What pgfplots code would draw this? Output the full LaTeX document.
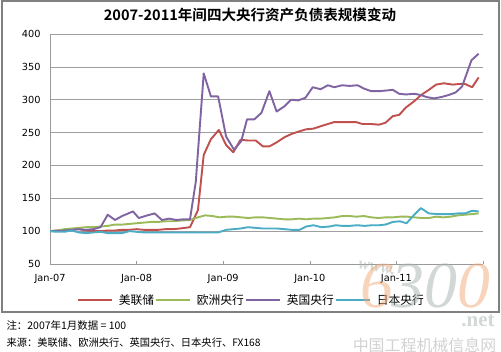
\documentclass[border=0pt]{standalone}
\usepackage{pgfplots}
\pgfplotsset{compat=1.18}
\usepackage{fontspec}
\setmainfont{DejaVu Sans}
\newfontfamily\cjk{Noto Sans CJK SC}[BoldFont={Noto Sans CJK SC Bold}]
\newfontfamily\wmserif{Liberation Serif}
\definecolor{fed}{RGB}{192,80,77}
\definecolor{ecb}{RGB}{155,187,89}
\definecolor{boe}{RGB}{128,100,162}
\definecolor{boj}{RGB}{75,172,198}
\definecolor{wmorange}{RGB}{240,170,120}
\definecolor{wmgrey}{RGB}{165,178,172}
\definecolor{framegrey}{RGB}{128,128,128}
\begin{document}
\begin{tikzpicture}
\useasboundingbox (0bp,0bp) rectangle (501bp,352bp);
\fill[white] (0bp,0bp) rectangle (501bp,352bp);
\node[font=\cjk\bfseries\fontsize{14.6}{16}\selectfont] at (250bp,337bp) {2007-2011年间四大央行资产负债表规模变动};
\begin{axis}[
  at={(50bp,88bp)}, anchor=origin, scale only axis,
  width=433bp, height=230bp,
  xmin=0, xmax=60, ymin=50, ymax=400,
  xtick={0,12,24,36,48,60},
  xticklabels={Jan-07,Jan-08,Jan-09,Jan-10,Jan-11,{}},
  ytick={50,100,150,200,250,300,350,400},
  ymajorgrids, grid style={gray!75, line width=0.6bp},
  axis x line*=bottom, axis y line*=left,
  axis line style={gray!80, line width=0.8bp},
  tick align=inside, major tick length=3bp,
  xtick style={gray!80, line width=0.6bp}, ytick style={draw=none},
  tick label style={font=\fontsize{9.8}{11}\selectfont},
  xticklabel style={yshift=-7bp},
  yticklabel style={xshift=-6bp},
  /pgf/number format/assume math mode=true,
  every axis plot/.append style={line width=1.9bp, line join=round},
  legend style={at={(0.465,-0.157)}, anchor=center, draw=none, fill=none,
    legend columns=4, font=\cjk\fontsize{11.8}{13}\selectfont,
    nodes={inner xsep=1.5bp},
    /tikz/every even column/.style={column sep=0bp},
    /tikz/every odd column/.style={column sep=14bp}},
  legend image code/.code={\path (0bp,0bp) -- (24bp,0bp);\draw[#1, overlay] (10bp,0bp) -- (34bp,0bp);},
]
\addplot[fed] coordinates {(0,100) (1,101) (2,102) (3,102) (4,103) (5,101) (6,100) (7,100) (8,101) (9,101) (10,102) (11,102) (12,103) (13,102) (14,102) (15,102) (16,103) (17,103) (18,104) (19.4,106) (20.5,132) (21.3,216) (22.3,240) (23.4,254) (24.4,231) (25.4,220) (26.4,239) (27.4,238) (28.5,238) (29.5,229) (30.4,229) (31.4,235) (32.5,243) (33.5,248) (34.6,252) (35.5,255) (36.5,256) (37.6,260) (38.5,263) (39.4,266) (40.5,266) (41.5,266) (42.4,266) (43.3,263) (44.5,263) (45.6,262) (46.5,265) (47.5,275) (48.4,277) (49.3,288) (50.5,298) (51.4,307) (52.5,315) (53.5,323) (54.6,325) (55.8,323) (56.8,324) (57.5,324) (58.5,319) (59.4,334)};
\addlegendentry{美联储}
\addplot[ecb] coordinates {(0,100) (1,101) (2,103) (3,104) (4,105) (5,106) (6,106) (7,107) (8,108) (9,110) (10,110) (11,111) (12,112) (13,113) (14,114) (15,114) (16,115) (17,115) (18,116) (19.4,117) (20.5,121) (21.5,124) (22.5,123) (23.5,121) (24.5,122) (25.5,122) (26.5,121) (27.5,120) (28.5,121) (29.5,121) (30.5,120) (31.5,119) (32.5,118) (33.5,118) (34.5,119) (35.5,118) (36.5,119) (37.5,119) (38.5,120) (39.5,121) (40.5,123) (41.5,123) (42.5,122) (43.5,123) (44.5,121) (45.5,120) (46.5,121) (47.5,121) (48.5,122) (49.5,122) (50.5,121) (51.5,120) (52.5,120) (53.5,122) (54.5,121) (55.5,122) (56.5,124) (57.5,125) (58.5,126) (59.4,127)};
\addlegendentry{欧洲央行}
\addplot[boe] coordinates {(0,100) (1,100) (2,101) (3,102) (4,103) (5,102) (6,103) (7,106) (8,125) (9,117) (10,123) (11.5,130) (12.3,120) (13.5,124) (14.5,127) (15.5,117) (16.5,119) (17.5,117) (18.5,118) (19.4,118) (20.2,175) (21.3,340) (22.3,305) (23.3,305) (24.4,244) (25.5,224) (26.5,237) (27.3,270) (28.3,270) (29.3,280) (30.4,313) (31.4,282) (32.5,290) (33.4,300) (34.4,299) (35.4,303) (36.4,319) (37.5,316) (38.5,322) (39.4,319) (40.5,322) (41.5,321) (42.6,322) (43.5,317) (44.5,313) (45.6,313) (46.6,314) (47.5,315) (48.4,309) (49.3,308) (50.5,309) (51.4,307) (52.2,304) (53.2,302) (54.2,304) (55.2,307) (56.2,311) (57.1,320) (58.4,360) (59.4,370)};
\addlegendentry{英国央行}
\addplot[boj] coordinates {(0,100) (1,99) (2,99) (3,101) (4,98) (5,97) (6,98) (7,99) (8,97) (9,97) (10,97) (11,100) (12,99) (13,98) (14,98) (15,98) (16,98) (17,98) (18,98) (19,98) (20,98) (21,98) (22,98) (23.3,98) (24.4,102) (25.4,103) (26.4,104) (27.4,106) (28.5,105) (29.5,104) (30.5,104) (31.5,104) (32.5,103) (33.5,102) (34.6,102) (35.5,107) (36.5,109) (37.6,106) (38.7,107) (39.6,109) (40.5,108) (41.5,108) (42.6,109) (43.6,108) (44.6,109) (45.6,109) (46.5,110) (47.5,114) (48.5,115) (49.4,112) (50.4,124) (51.4,135) (52.5,127) (53.6,126) (54.6,126) (55.6,126) (56.6,127) (57.5,127) (58.5,131) (59.4,130)};
\addlegendentry{日本央行}
\end{axis}
\node[anchor=west, font=\cjk\fontsize{10.5}{12}\selectfont] at (3bp,26bp) {注：2007年1月数据 = 100};
\node[anchor=west, font=\cjk\fontsize{10.3}{12}\selectfont] at (3bp,9.5bp) {来源：美联储、欧洲央行、英国央行、日本央行、FX168};
% watermark
\begin{scope}[opacity=0.5]
\node[font=\wmserif\itshape\bfseries\fontsize{17}{17}\selectfont, text=wmgrey, rotate=-10] at (377bp,84bp) {www.};
\node[font=\wmserif\itshape\fontsize{66}{66}\selectfont, text=wmorange] at (377bp,66bp) {6};
\node[font=\wmserif\itshape\fontsize{66}{66}\selectfont, text=wmgrey] at (408bp,66bp) {3};
\node[font=\wmserif\itshape\fontsize{66}{66}\selectfont, text=wmgrey] at (441bp,66bp) {0};
\node[font=\wmserif\itshape\fontsize{66}{66}\selectfont, text=wmorange] at (474bp,66bp) {0};
\node[font=\wmserif\bfseries\fontsize{21}{21}\selectfont, text=wmgrey] at (478bp,31bp) {.net};
\node[font=\cjk\fontsize{16}{17}\selectfont, text=gray!70] at (424.5bp,7bp) {中国工程机械信息网};
\end{scope}
\draw[framegrey, line width=1.6bp] (1.8bp,39.8bp) -- (1.8bp,351.2bp) -- (499.2bp,351.2bp) -- (499.2bp,39.8bp) -- cycle;
\end{tikzpicture}
\end{document}
